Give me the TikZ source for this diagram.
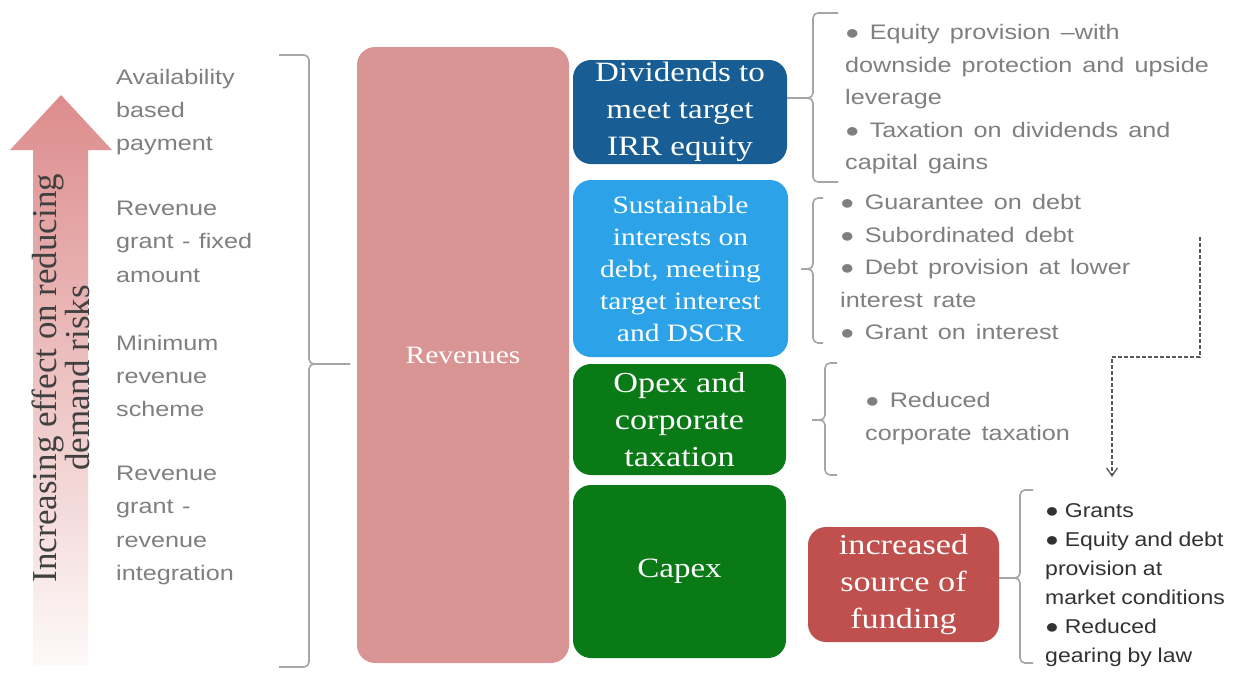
\documentclass[tikz,border=0pt]{standalone}
\usepackage{fontspec}
\setmainfont{Liberation Serif}
\newfontfamily\gs[FakeStretch=1.2,WordSpace=0.5]{Liberation Sans}
\newfontfamily\gsn[FakeStretch=1.15,WordSpace=0.9]{Liberation Sans}
\newfontfamily\gsw[FakeStretch=1.2,WordSpace=1.2]{Liberation Sans}
\newfontfamily\tm[FakeStretch=1.18]{Liberation Serif}
\newfontfamily\tmr{Liberation Serif}
\usetikzlibrary{arrows.meta}
\definecolor{revc}{RGB}{217,149,148}
\definecolor{divc}{RGB}{24,94,148}
\definecolor{susc}{RGB}{44,163,232}
\definecolor{grnc}{RGB}{10,122,22}
\definecolor{redc}{RGB}{192,80,77}
\definecolor{txtg}{RGB}{127,127,127}
\definecolor{txtd}{RGB}{50,50,50}
\definecolor{brcc}{RGB}{166,166,166}
\definecolor{arrc}{RGB}{221,140,140}
\definecolor{dshc}{RGB}{90,90,90}
\newcommand\bul{{\fontsize{20}{20}\selectfont ●}}
\newcommand\lbrc[6]{% x, ytop, ybot, tipx, tipy, hook
  \draw[brc] (#1+#6,#2) -- (#1,#2) -- (#1,#5) -- (#4,#5);
  \draw[brc] (#4,#5) -- (#1,#5) -- (#1,#3) -- (#1+#6,#3);}
\begin{document}
\begin{tikzpicture}[x=1pt,y=-1pt,
  box/.style={rounded corners=18pt, text=white, align=center, inner sep=0pt},
  brc/.style={draw=brcc, line width=1.6pt, rounded corners=5pt},
  lt/.style={font=\gs\fontsize{21}{33.2}\selectfont, text=txtg, align=left, inner sep=0pt, anchor=north west},
  rt/.style={font=\gsw\fontsize{21}{32.5}\selectfont, text=txtg, align=left, inner sep=0pt, anchor=north west},
  dsh/.style={draw=dshc, line width=1.3pt, dash pattern=on 4pt off 2pt, -{Straight Barb[length=8pt,width=11pt]}}]
\useasboundingbox (0,0) rectangle (1236,691);
\fill[white] (0,0) rectangle (1236,691);

% big arrow
\shade[top color=arrc, middle color=arrc!75!white, bottom color=arrc!5!white]
  (61,95) -- (112,150) -- (88,150) -- (88,665) -- (33,665) -- (33,150) -- (10,150) -- cycle;
\node[rotate=90, font=\tmr\fontsize{35}{33}\selectfont, text={rgb,255:red,64;green,64;blue,64}, align=center, inner sep=0pt] (risk) at (61,378) {Increasing effect on reducing\\demand risks};

% left texts
\node[lt] (t1) at (116,69) {Availability\\based\\payment};
\node[lt] (t2) at (116,201) {Revenue\\grant - fixed\\amount};
\node[lt] (t3) at (116,335) {Minimum\\revenue\\scheme};
\node[lt] (t4) at (116,466) {Revenue\\grant -\\revenue\\integration};

% brace 1 (right facing)
\coordinate (b1tip) at (350,364);
\draw[brc] (279,55) -- (309,55) -- (309,364) -- (b1tip);
\draw[brc] (b1tip) -- (309,364) -- (309,667) -- (279,667);

% boxes
\node[box, fill=revc, minimum width=212, minimum height=616, font=\tm\fontsize{25}{30}\selectfont] (rev) at (463,355) {Revenues};
\node[box, fill=divc, minimum width=214, minimum height=104, font=\tm\fontsize{28}{37}\selectfont] (div) at (680,112) {Dividends to\\meet target\\IRR equity};
\node[box, fill=susc, minimum width=215, minimum height=177, font=\tm\fontsize{25}{32}\selectfont] (sus) at (680.5,268.5) {Sustainable\\interests on\\debt, meeting\\target interest\\and DSCR};
\node[box, fill=grnc, minimum width=213, minimum height=111, font=\tm\fontsize{29}{37}\selectfont] (opex) at (679.5,419.5) {Opex and\\corporate\\taxation};
\node[box, fill=grnc, minimum width=213, minimum height=173, font=\tm\fontsize{28}{35}\selectfont] (capex) at (679.5,571.5) {Capex};
\node[box, fill=redc, minimum width=191, minimum height=115, font=\tm\fontsize{29}{37}\selectfont] (red) at (903.5,584.5) {increased\\source of\\funding};

% braces
\coordinate (b2tip) at (803,98);
\lbrc{813}{13}{182}{803}{98}{25}
\draw[brc] (div.east |- b2tip) -- (b2tip);
\coordinate (b3tip) at (801,269);
\lbrc{813}{198}{343}{801}{269}{10}
\coordinate (b4tip) at (812,420);
\lbrc{825}{363}{475}{812}{420}{12}
\coordinate (b5tip) at (1008,578);
\lbrc{1020}{490}{663}{1008}{578}{13}
\draw[brc] (red.east |- b5tip) -- (b5tip);

% right texts
\node[rt] (r2) at (845,24.5) {\bul{} Equity provision –with\\downside protection and upside\\leverage\\\bul{} Taxation on dividends and\\capital gains};
\node[rt] (r3) at (840,194.5) {\bul{} Guarantee on debt\\\bul{} Subordinated debt\\\bul{} Debt provision at lower\\interest rate\\\bul{} Grant on interest};
\node[rt] (r4) at (865,392.5) {\bul{} Reduced\\corporate taxation};
\node[rt, font=\gsn\fontsize{20}{29}\selectfont, text=txtd] (r5) at (1045,503) {\bul{} Grants\\\bul{} Equity and debt\\provision at\\market conditions\\\bul{} Reduced\\gearing by law};

% dashed arrow
\coordinate (ds) at (1200,237);
\coordinate (de) at (1112,477);
\draw[dsh] (ds) -- ++(0,120) -| (de);
\end{tikzpicture}
\end{document}
